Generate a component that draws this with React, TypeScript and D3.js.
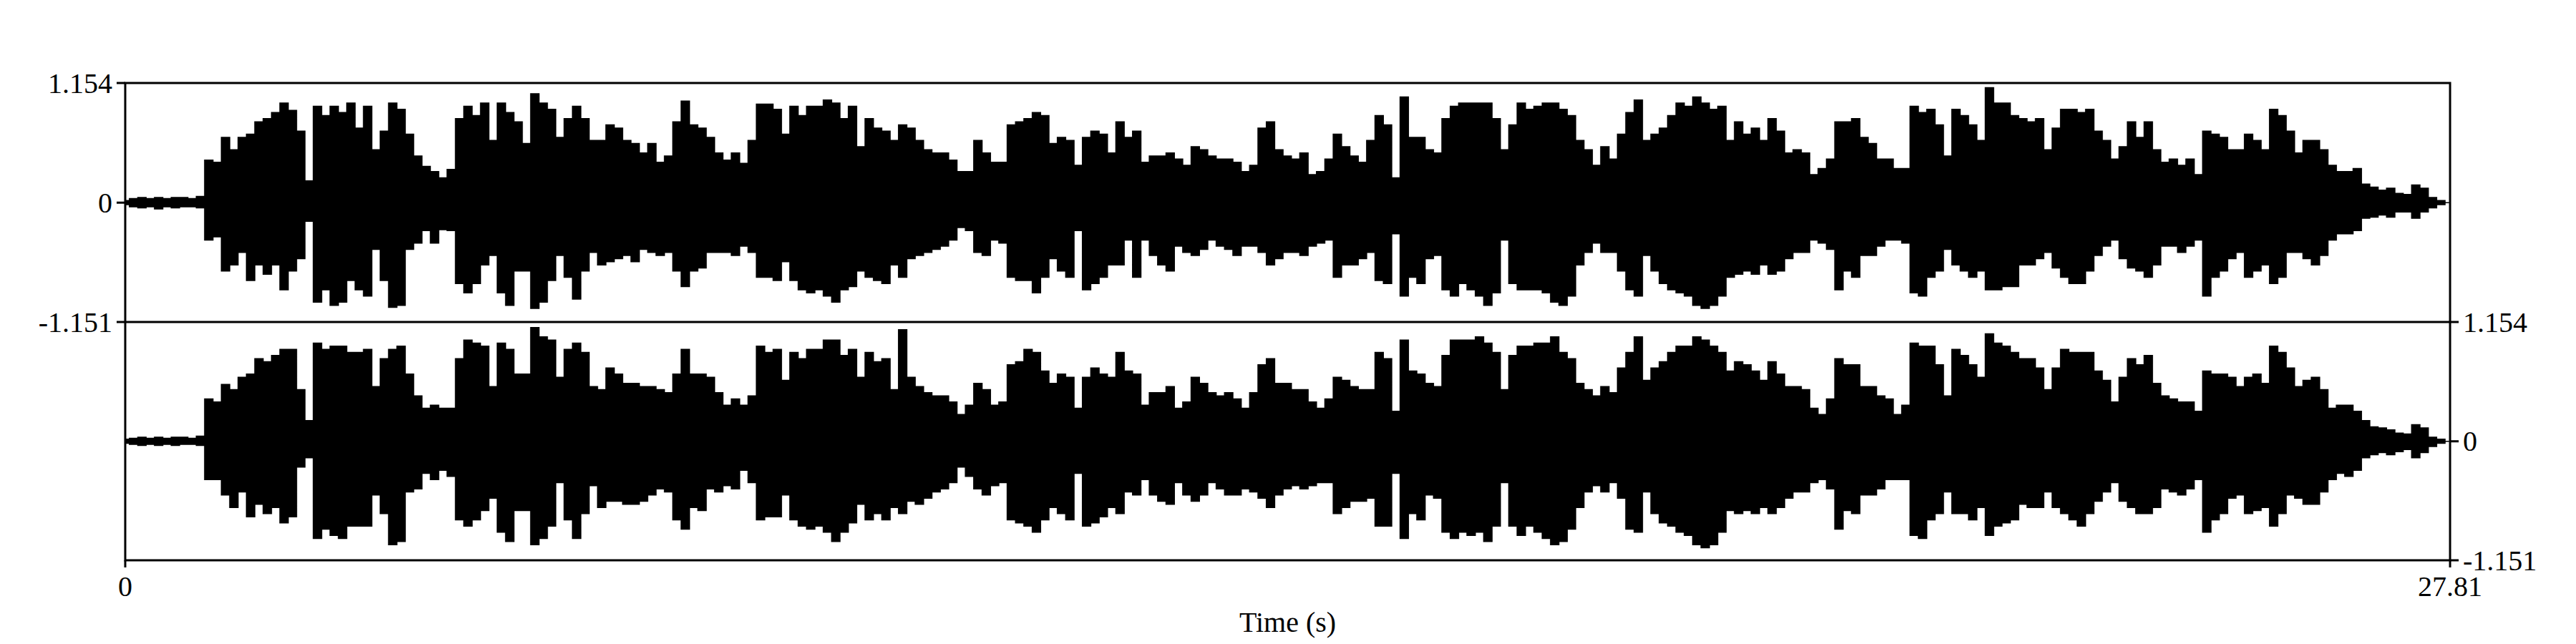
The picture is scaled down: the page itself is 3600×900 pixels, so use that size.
import React, { useEffect, useRef } from "react";
import * as d3 from "d3";

// envelope of the two channels, sampled every 0.1 s (0 .. 27.8 s)
const duration = 27.81;
const step = 0.1;
const yMin = -1.151;
const yMax = 1.154;

const ch1Top = [
  0.02, 0.04, 0.05, 0.04, 0.05, 0.04, 0.05, 0.05, 0.04, 0.06,
  0.41, 0.39, 0.63, 0.51, 0.63, 0.66, 0.78, 0.81, 0.87, 0.96,
  0.89, 0.69, 0.21, 0.93, 0.84, 0.93, 0.87, 0.96, 0.72, 0.93,
  0.51, 0.69, 0.96, 0.9, 0.66, 0.45, 0.35, 0.3, 0.24, 0.32,
  0.81, 0.93, 0.84, 0.96, 0.6, 0.96, 0.87, 0.78, 0.57, 1.05,
  0.96, 0.9, 0.63, 0.81, 0.93, 0.81, 0.6, 0.6, 0.75, 0.72,
  0.6, 0.57, 0.48, 0.57, 0.39, 0.45, 0.78, 0.98, 0.75, 0.72,
  0.63, 0.48, 0.41, 0.48, 0.38, 0.6, 0.95, 0.95, 0.9, 0.66,
  0.93, 0.84, 0.93, 0.93, 0.99, 0.96, 0.81, 0.93, 0.54, 0.81,
  0.72, 0.69, 0.6, 0.75, 0.72, 0.6, 0.51, 0.48, 0.48, 0.41,
  0.3, 0.3, 0.6, 0.48, 0.39, 0.39, 0.75, 0.78, 0.81, 0.87,
  0.84, 0.57, 0.63, 0.6, 0.36, 0.63, 0.69, 0.66, 0.48, 0.78,
  0.63, 0.69, 0.39, 0.45, 0.45, 0.48, 0.42, 0.36, 0.54, 0.51,
  0.45, 0.42, 0.42, 0.39, 0.3, 0.36, 0.72, 0.78, 0.51, 0.45,
  0.42, 0.48, 0.27, 0.3, 0.42, 0.66, 0.54, 0.45, 0.39, 0.6,
  0.84, 0.75, 0.24, 1.02, 0.63, 0.63, 0.51, 0.48, 0.81, 0.93,
  0.96, 0.96, 0.96, 0.96, 0.81, 0.51, 0.75, 0.96, 0.9, 0.93,
  0.96, 0.96, 0.9, 0.84, 0.6, 0.51, 0.36, 0.54, 0.42, 0.66,
  0.87, 0.99, 0.6, 0.66, 0.72, 0.84, 0.96, 0.93, 1.02, 0.96,
  0.9, 0.93, 0.6, 0.78, 0.66, 0.72, 0.6, 0.81, 0.69, 0.48,
  0.51, 0.48, 0.27, 0.33, 0.42, 0.78, 0.78, 0.81, 0.63, 0.57,
  0.42, 0.42, 0.33, 0.33, 0.93, 0.87, 0.9, 0.75, 0.45, 0.9,
  0.84, 0.75, 0.6, 1.11, 0.96, 0.96, 0.84, 0.81, 0.78, 0.81,
  0.51, 0.72, 0.9, 0.9, 0.87, 0.9, 0.69, 0.6, 0.42, 0.54,
  0.78, 0.63, 0.78, 0.51, 0.39, 0.42, 0.36, 0.42, 0.27, 0.69,
  0.66, 0.63, 0.51, 0.51, 0.66, 0.6, 0.51, 0.9, 0.84, 0.69,
  0.48, 0.6, 0.6, 0.51, 0.36, 0.3, 0.3, 0.33, 0.18, 0.15,
  0.12, 0.14, 0.09, 0.08, 0.17, 0.14, 0.05, 0.02, 0.0,
];

const ch1Bottom = [
  -0.02, -0.04, -0.05, -0.04, -0.06, -0.04, -0.05, -0.04, -0.04, -0.05,
  -0.36, -0.33, -0.66, -0.6, -0.48, -0.75, -0.6, -0.69, -0.6, -0.84,
  -0.66, -0.54, -0.18, -0.96, -0.84, -0.99, -0.96, -0.75, -0.84, -0.9,
  -0.45, -0.75, -1.01, -0.99, -0.45, -0.39, -0.27, -0.39, -0.26, -0.27,
  -0.78, -0.87, -0.78, -0.6, -0.51, -0.87, -0.99, -0.66, -0.66, -1.02,
  -0.96, -0.75, -0.51, -0.72, -0.93, -0.66, -0.48, -0.6, -0.57, -0.54,
  -0.51, -0.57, -0.45, -0.48, -0.51, -0.48, -0.66, -0.81, -0.66, -0.63,
  -0.48, -0.48, -0.48, -0.51, -0.42, -0.48, -0.72, -0.72, -0.75, -0.57,
  -0.75, -0.84, -0.87, -0.84, -0.9, -0.96, -0.84, -0.81, -0.66, -0.72,
  -0.75, -0.78, -0.6, -0.72, -0.54, -0.51, -0.48, -0.45, -0.42, -0.36,
  -0.24, -0.27, -0.48, -0.51, -0.36, -0.39, -0.72, -0.75, -0.75, -0.87,
  -0.72, -0.54, -0.66, -0.72, -0.27, -0.84, -0.78, -0.72, -0.6, -0.6,
  -0.36, -0.72, -0.36, -0.51, -0.6, -0.66, -0.42, -0.48, -0.51, -0.45,
  -0.36, -0.42, -0.45, -0.51, -0.42, -0.42, -0.48, -0.6, -0.54, -0.48,
  -0.48, -0.51, -0.42, -0.39, -0.36, -0.72, -0.6, -0.6, -0.54, -0.48,
  -0.75, -0.78, -0.3, -0.9, -0.72, -0.78, -0.54, -0.51, -0.84, -0.9,
  -0.78, -0.84, -0.9, -0.99, -0.87, -0.36, -0.78, -0.84, -0.84, -0.84,
  -0.87, -0.96, -0.99, -0.9, -0.6, -0.48, -0.39, -0.48, -0.48, -0.66,
  -0.84, -0.9, -0.51, -0.66, -0.78, -0.84, -0.87, -0.9, -0.99, -1.02,
  -0.99, -0.9, -0.72, -0.69, -0.66, -0.69, -0.6, -0.69, -0.66, -0.54,
  -0.48, -0.48, -0.36, -0.39, -0.45, -0.84, -0.66, -0.72, -0.51, -0.51,
  -0.42, -0.36, -0.36, -0.39, -0.87, -0.9, -0.72, -0.66, -0.45, -0.6,
  -0.66, -0.72, -0.66, -0.84, -0.84, -0.81, -0.81, -0.6, -0.6, -0.54,
  -0.48, -0.63, -0.72, -0.78, -0.78, -0.66, -0.51, -0.42, -0.36, -0.54,
  -0.63, -0.66, -0.72, -0.6, -0.42, -0.42, -0.48, -0.42, -0.36, -0.9,
  -0.72, -0.66, -0.54, -0.48, -0.72, -0.66, -0.6, -0.78, -0.72, -0.48,
  -0.48, -0.54, -0.6, -0.51, -0.36, -0.3, -0.3, -0.27, -0.15, -0.14,
  -0.12, -0.14, -0.09, -0.09, -0.15, -0.09, -0.05, -0.02, 0.0,
];

const ch2Top = [
  0.02, 0.03, 0.04, 0.03, 0.04, 0.03, 0.04, 0.04, 0.03, 0.05,
  0.41, 0.38, 0.55, 0.5, 0.62, 0.65, 0.8, 0.77, 0.83, 0.89,
  0.89, 0.5, 0.2, 0.95, 0.89, 0.92, 0.92, 0.86, 0.86, 0.89,
  0.53, 0.8, 0.89, 0.92, 0.65, 0.44, 0.32, 0.35, 0.32, 0.32,
  0.8, 0.98, 0.95, 0.92, 0.53, 0.95, 0.89, 0.65, 0.65, 1.1,
  1.01, 0.98, 0.62, 0.89, 0.95, 0.86, 0.53, 0.5, 0.71, 0.65,
  0.56, 0.56, 0.53, 0.53, 0.5, 0.47, 0.65, 0.89, 0.65, 0.65,
  0.62, 0.47, 0.35, 0.41, 0.35, 0.44, 0.92, 0.86, 0.89, 0.59,
  0.86, 0.8, 0.89, 0.89, 0.98, 0.98, 0.83, 0.89, 0.62, 0.86,
  0.77, 0.8, 0.5, 1.08, 0.62, 0.53, 0.47, 0.44, 0.44, 0.38,
  0.26, 0.35, 0.56, 0.5, 0.35, 0.38, 0.74, 0.77, 0.89, 0.86,
  0.68, 0.56, 0.65, 0.62, 0.32, 0.62, 0.71, 0.65, 0.62, 0.86,
  0.68, 0.65, 0.35, 0.47, 0.47, 0.53, 0.32, 0.38, 0.62, 0.56,
  0.47, 0.44, 0.47, 0.41, 0.32, 0.47, 0.74, 0.8, 0.56, 0.56,
  0.5, 0.5, 0.38, 0.32, 0.41, 0.62, 0.59, 0.53, 0.5, 0.5,
  0.86, 0.8, 0.29, 0.98, 0.68, 0.65, 0.56, 0.53, 0.83, 0.98,
  0.98, 0.98, 1.01, 0.95, 0.86, 0.5, 0.83, 0.92, 0.92, 0.95,
  0.95, 1.01, 0.86, 0.8, 0.56, 0.5, 0.44, 0.53, 0.47, 0.71,
  0.86, 1.01, 0.59, 0.71, 0.77, 0.86, 0.92, 0.92, 1.01, 0.98,
  0.92, 0.86, 0.68, 0.77, 0.74, 0.68, 0.59, 0.77, 0.65, 0.53,
  0.53, 0.5, 0.32, 0.26, 0.41, 0.8, 0.74, 0.74, 0.53, 0.53,
  0.44, 0.41, 0.26, 0.35, 0.95, 0.92, 0.92, 0.74, 0.44, 0.89,
  0.83, 0.74, 0.62, 1.04, 0.95, 0.92, 0.86, 0.8, 0.8, 0.71,
  0.5, 0.71, 0.89, 0.86, 0.86, 0.86, 0.68, 0.59, 0.38, 0.62,
  0.8, 0.74, 0.83, 0.56, 0.44, 0.41, 0.38, 0.38, 0.29, 0.68,
  0.65, 0.65, 0.62, 0.53, 0.62, 0.65, 0.56, 0.92, 0.86, 0.71,
  0.53, 0.59, 0.62, 0.5, 0.32, 0.35, 0.35, 0.29, 0.2, 0.14,
  0.13, 0.11, 0.08, 0.07, 0.16, 0.13, 0.04, 0.02, 0.0,
];

const ch2Bottom = [
  -0.02, -0.03, -0.04, -0.03, -0.04, -0.03, -0.04, -0.03, -0.03, -0.04,
  -0.37, -0.37, -0.52, -0.64, -0.49, -0.73, -0.61, -0.7, -0.64, -0.79,
  -0.73, -0.25, -0.16, -0.94, -0.85, -0.91, -0.94, -0.82, -0.82, -0.82,
  -0.52, -0.7, -1.0, -0.97, -0.49, -0.46, -0.31, -0.37, -0.28, -0.34,
  -0.76, -0.82, -0.76, -0.67, -0.55, -0.88, -0.97, -0.67, -0.67, -1.0,
  -0.94, -0.82, -0.4, -0.76, -0.94, -0.7, -0.43, -0.64, -0.58, -0.58,
  -0.61, -0.61, -0.58, -0.52, -0.46, -0.49, -0.76, -0.85, -0.64, -0.67,
  -0.46, -0.49, -0.43, -0.46, -0.28, -0.4, -0.76, -0.73, -0.73, -0.52,
  -0.76, -0.82, -0.85, -0.82, -0.88, -0.97, -0.88, -0.79, -0.61, -0.76,
  -0.7, -0.76, -0.64, -0.7, -0.58, -0.61, -0.55, -0.49, -0.46, -0.4,
  -0.25, -0.34, -0.46, -0.52, -0.43, -0.4, -0.76, -0.79, -0.82, -0.88,
  -0.76, -0.64, -0.7, -0.76, -0.31, -0.82, -0.79, -0.73, -0.64, -0.7,
  -0.49, -0.52, -0.37, -0.52, -0.58, -0.61, -0.4, -0.52, -0.58, -0.52,
  -0.4, -0.46, -0.52, -0.52, -0.46, -0.49, -0.55, -0.64, -0.52, -0.46,
  -0.43, -0.46, -0.43, -0.4, -0.4, -0.7, -0.64, -0.58, -0.58, -0.55,
  -0.82, -0.82, -0.31, -0.94, -0.7, -0.76, -0.52, -0.55, -0.88, -0.94,
  -0.88, -0.91, -0.88, -0.97, -0.82, -0.4, -0.82, -0.91, -0.82, -0.88,
  -0.94, -1.0, -0.97, -0.85, -0.64, -0.49, -0.43, -0.49, -0.4, -0.55,
  -0.85, -0.88, -0.49, -0.7, -0.79, -0.82, -0.88, -0.91, -1.0, -1.03,
  -1.0, -0.88, -0.67, -0.7, -0.67, -0.7, -0.64, -0.7, -0.64, -0.55,
  -0.49, -0.49, -0.4, -0.37, -0.46, -0.85, -0.67, -0.7, -0.52, -0.52,
  -0.46, -0.37, -0.37, -0.37, -0.91, -0.94, -0.76, -0.7, -0.49, -0.7,
  -0.7, -0.76, -0.64, -0.91, -0.82, -0.79, -0.76, -0.61, -0.64, -0.64,
  -0.49, -0.64, -0.7, -0.76, -0.82, -0.7, -0.58, -0.49, -0.4, -0.58,
  -0.64, -0.7, -0.7, -0.64, -0.46, -0.49, -0.52, -0.46, -0.37, -0.88,
  -0.76, -0.7, -0.55, -0.52, -0.7, -0.67, -0.64, -0.82, -0.7, -0.52,
  -0.55, -0.61, -0.61, -0.49, -0.37, -0.31, -0.34, -0.28, -0.16, -0.13,
  -0.11, -0.13, -0.1, -0.08, -0.16, -0.11, -0.05, -0.02, 0.0,
];

const leftLabels = ["1.154", "0", "-1.151"];
const rightLabels = ["1.154", "0", "-1.151"];
const timeLabels = ["0", "27.81"];

const Waveform = () => {
  const ref = useRef(null);

  useEffect(() => {
    const width = 3600;
    const height = 900;
    const left = 175;
    const right = 3424;
    const top = 116;
    const mid = 450;
    const bottom = 783;
    const font = "'Liberation Serif', 'Times New Roman', serif";

    const svg = d3.select(ref.current);
    svg.selectAll("*").remove();
    svg.attr("width", width).attr("height", height);

    const x = d3.scaleLinear().domain([0, duration]).range([left, right]);
    const y1 = d3.scaleLinear().domain([yMin, yMax]).range([mid, top]);
    const y2 = d3.scaleLinear().domain([yMin, yMax]).range([bottom, mid]);

    const channels = [
      { hi: ch1Top, lo: ch1Bottom, y: y1 },
      { hi: ch2Top, lo: ch2Bottom, y: y2 },
    ];

    channels.forEach((ch) => {
      const data = ch.hi.map((h, i) => ({ t: i * step, hi: h, lo: ch.lo[i] }));
      const area = d3
        .area()
        .curve(d3.curveStep)
        .x((d) => x(d.t))
        .y0((d) => ch.y(d.lo))
        .y1((d) => ch.y(d.hi));
      svg
        .append("path")
        .datum(data)
        .attr("d", area)
        .attr("fill", "#000")
        .attr("stroke", "#000")
        .attr("stroke-width", 1.5);
    });

    // frame
    const frame = svg.append("g").attr("stroke", "#000").attr("stroke-width", 3).attr("fill", "none");
    frame.append("rect").attr("x", left).attr("y", top).attr("width", right - left).attr("height", bottom - top);
    frame.append("line").attr("x1", left).attr("x2", right).attr("y1", mid).attr("y2", mid);

    const ticks = [yMax, 0, yMin];

    // left axis (channel 1)
    ticks.forEach((v, i) => {
      svg.append("line")
        .attr("x1", left - 12).attr("x2", left)
        .attr("y1", y1(v)).attr("y2", y1(v))
        .attr("stroke", "#000").attr("stroke-width", 3);
      svg.append("text")
        .attr("x", left - 18).attr("y", y1(v)).attr("dy", "0.34em")
        .attr("text-anchor", "end")
        .style("font-family", font).style("font-size", "40px")
        .text(leftLabels[i]);
    });

    // right axis (channel 2)
    ticks.forEach((v, i) => {
      svg.append("line")
        .attr("x1", right).attr("x2", right + 12)
        .attr("y1", y2(v)).attr("y2", y2(v))
        .attr("stroke", "#000").attr("stroke-width", 3);
      svg.append("text")
        .attr("x", right + 18).attr("y", y2(v)).attr("dy", "0.34em")
        .attr("text-anchor", "start")
        .style("font-family", font).style("font-size", "40px")
        .text(rightLabels[i]);
    });

    // time axis
    [0, duration].forEach((t, i) => {
      svg.append("line")
        .attr("x1", x(t)).attr("x2", x(t))
        .attr("y1", bottom).attr("y2", bottom + 10)
        .attr("stroke", "#000").attr("stroke-width", 3);
      svg.append("text")
        .attr("x", x(t)).attr("y", 833)
        .attr("text-anchor", "middle")
        .style("font-family", font).style("font-size", "40px")
        .text(timeLabels[i]);
    });

    svg.append("text")
      .attr("x", (left + right) / 2).attr("y", 883)
      .attr("text-anchor", "middle")
      .style("font-family", font).style("font-size", "40px")
      .text("Time (s)");
  }, []);

  return <svg ref={ref} style={{ position: "absolute", left: 0, top: 0, background: "#fff" }}></svg>;
};

export default function App() {
  return <Waveform />;
}
